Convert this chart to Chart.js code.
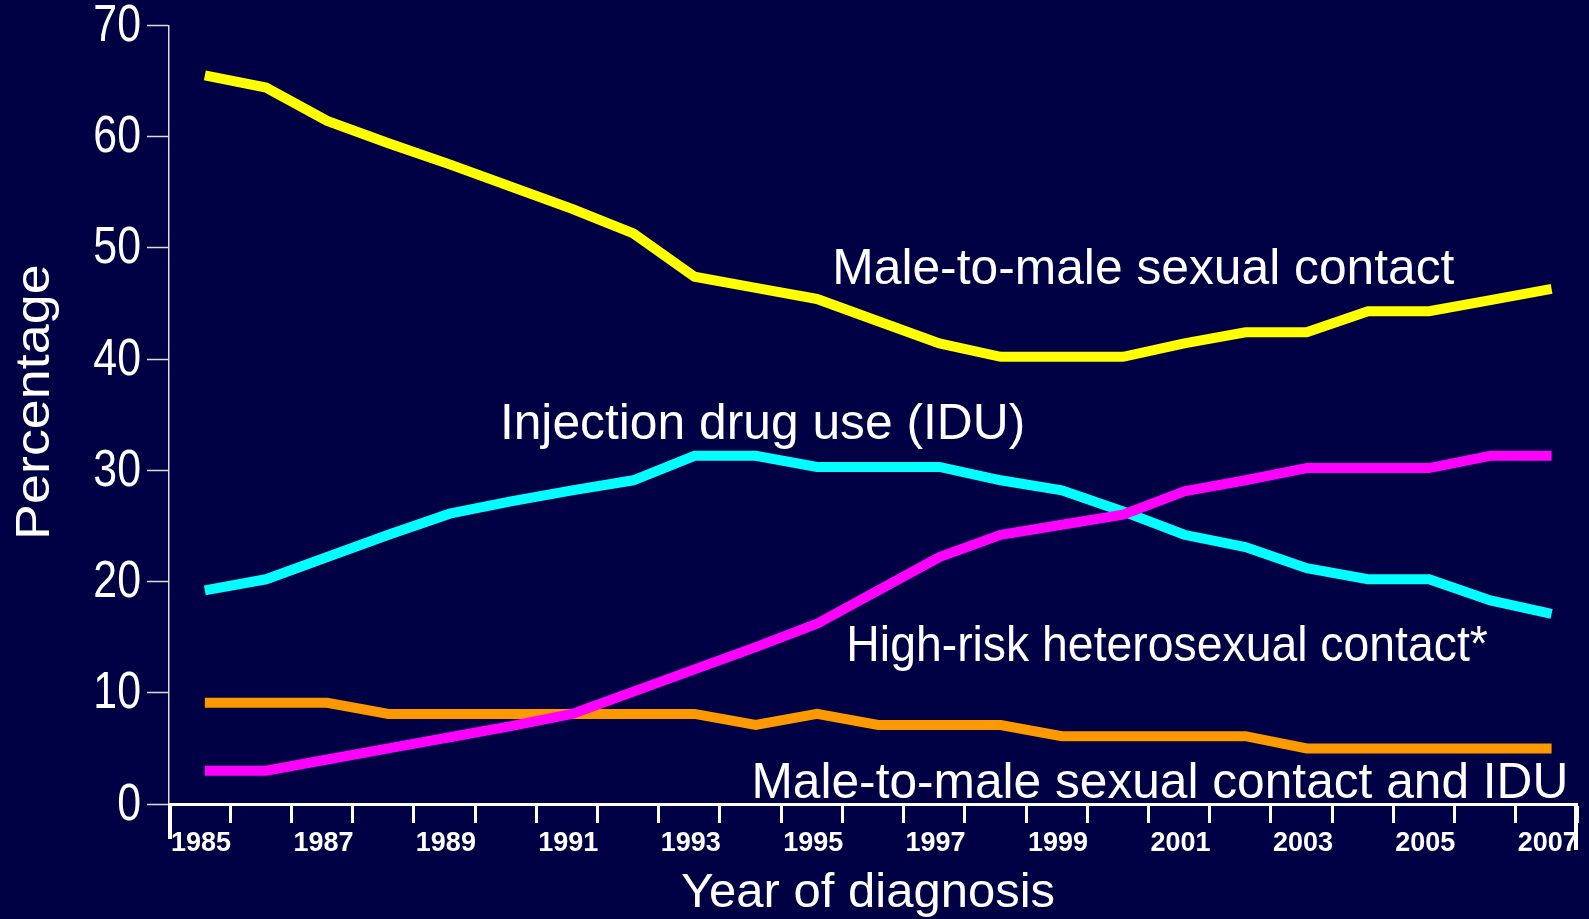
<!DOCTYPE html>
<html>
<head>
<meta charset="utf-8">
<script src="https://cdn.jsdelivr.net/npm/chart.js@4.4.1/dist/chart.umd.min.js"></script>
<style>
  html, body { margin: 0; padding: 0; background: #000044; overflow: hidden; }
  canvas { display: block; background: #000044; }
</style>
</head>
<body>
<canvas id="c" width="1589" height="919"></canvas>
<script>
// ---- data ----
const years = [1985, 1986, 1987, 1988, 1989, 1990, 1991, 1992, 1993, 1994, 1995, 1996,
               1997, 1998, 1999, 2000, 2001, 2002, 2003, 2004, 2005, 2006, 2007];
const xTickLabels = ['1985', '1987', '1989', '1991', '1993', '1995', '1997', '1999', '2001', '2003', '2005', '2007'];
const yTickValues = [0, 10, 20, 30, 40, 50, 60, 70];

const maleToMale   = [65.5, 64.4, 61.4, 59.4, 57.5, 55.5, 53.5, 51.3, 47.4, 46.4, 45.4, 43.4,
                      41.4, 40.2, 40.2, 40.2, 41.4, 42.4, 42.4, 44.3, 44.3, 45.3, 46.3];
const injectionDrugUse = [19.2, 20.2, 22.2, 24.2, 26.1, 27.2, 28.2, 29.1, 31.3, 31.3, 30.3, 30.3,
                      30.3, 29.1, 28.2, 26.3, 24.2, 23.1, 21.2, 20.2, 20.2, 18.3, 17.1];
const heterosexual = [3.0, 3.0, 4.0, 5.0, 6.0, 7.0, 8.1, 10.1, 12.1, 14.1, 16.2, 19.2,
                      22.2, 24.2, 25.1, 26.0, 28.1, 29.1, 30.2, 30.2, 30.2, 31.3, 31.3];
const maleToMaleAndIdu = [9.1, 9.1, 9.1, 8.1, 8.1, 8.1, 8.1, 8.1, 8.1, 7.1, 8.1, 7.1,
                      7.1, 7.1, 6.1, 6.1, 6.1, 6.1, 5.0, 5.0, 5.0, 5.0, 5.0];

const seriesNames = ['Male-to-male sexual contact', 'Injection drug use (IDU)',
                     'High-risk heterosexual contact*', 'Male-to-male sexual contact and IDU'];

const xTitle = 'Year of diagnosis';
const yTitle = 'Percentage';

// ---- chart ----
const toPoints = arr => arr.map((v, i) => ({ x: years[i], y: v }));
const FONT = "'Liberation Sans', Arial, sans-serif";
const catShift = 0.585; // position of a point inside its year cell

// condensed look of the original slide text (transform wrappers around Chart.js drawing)
const condensePlugin = {
  id: 'condense',
  beforeDraw(chart) {
    if (chart.$condensed) return;
    chart.$condensed = true;
    const ys = chart.scales.y, xs = chart.scales.x;
    const yLabels = ys.drawLabels.bind(ys);
    ys.drawLabels = function (area) {
      const ctx = this.ctx;
      const pivot = this.right - this.options.grid.tickLength - this.options.ticks.padding;
      ctx.save();
      ctx.translate(pivot, 1.5); ctx.scale(0.84, 1); ctx.translate(-pivot, 0);
      yLabels(area);
      ctx.restore();
    };
    const yTitleDraw = ys.drawTitle.bind(ys);
    ys.drawTitle = function () {
      const ctx = this.ctx;
      const cy = (this.top + this.bottom) / 2;
      ctx.save();
      ctx.translate(0, cy - 12.5); ctx.scale(1, 1.1); ctx.translate(0, -cy);
      yTitleDraw();
      ctx.restore();
    };
    const xTitleDraw = xs.drawTitle.bind(xs);
    xs.drawTitle = function () {
      const ctx = this.ctx;
      ctx.save();
      ctx.translate(-5, 4);
      xTitleDraw();
      ctx.restore();
    };
  }
};

const seriesLabelPlugin = {
  id: 'seriesLabels',
  afterDatasetsDraw(chart) {
    const { ctx, scales: { x, y } } = chart;
    const anchors = [
      { idx: 0, xv: 1995.25, yv: 46.7, sx: 0.995 },
      { idx: 1, xv: 1989.82, yv: 32.8, sx: 0.995 },
      { idx: 2, xv: 1995.48, yv: 12.86, sx: 0.927 },
      { idx: 3, xv: 1993.93, yv: 0.58, sx: 0.993 }
    ];
    ctx.save();
    ctx.fillStyle = '#ffffff';
    ctx.font = '50px ' + FONT;
    ctx.textAlign = 'left';
    ctx.textBaseline = 'alphabetic';
    anchors.forEach(a => {
      const px = x.getPixelForValue(a.xv), py = y.getPixelForValue(a.yv);
      ctx.save();
      ctx.translate(px, py); ctx.scale(a.sx, 1);
      ctx.fillText(seriesNames[a.idx], 0, 0);
      ctx.restore();
    });
    // longer end ticks of the x axis
    ctx.strokeStyle = '#ffffff';
    ctx.lineWidth = 4;
    const yb = y.getPixelForValue(0);
    ctx.beginPath();
    ctx.moveTo(x.left + 1, yb); ctx.lineTo(x.left + 1, yb + 35);
    ctx.moveTo(x.right - 1, yb); ctx.lineTo(x.right - 1, yb + 46);
    ctx.stroke();
    ctx.restore();
  }
};

new Chart(document.getElementById('c'), {
  type: 'line',
  data: {
    datasets: [
      { label: seriesNames[2], data: toPoints(heterosexual), borderColor: '#ff00ff' },
      { label: seriesNames[0], data: toPoints(maleToMale), borderColor: '#ffff00' },
      { label: seriesNames[1], data: toPoints(injectionDrugUse), borderColor: '#00ffff' },
      { label: seriesNames[3], data: toPoints(maleToMaleAndIdu), borderColor: '#ff9900' }
    ].map(d => Object.assign(d, {
      borderWidth: 10, pointRadius: 0, tension: 0, fill: false,
      borderCapStyle: 'butt', borderJoinStyle: 'miter'
    }))
  },
  options: {
    responsive: false,
    animation: false,
    layout: { padding: { top: 25.3, right: 12, left: 0, bottom: 0 } },
    plugins: { legend: { display: false }, tooltip: { enabled: false } },
    scales: {
      x: {
        type: 'linear',
        min: years[0] - catShift,
        max: years[years.length - 1] + 1 - catShift,
        afterBuildTicks: s => { s.ticks = years.concat([years[years.length - 1] + 1]).map(v => ({ value: v - catShift })); },
        afterFit: s => { s.height = 115; },
        grid: { drawOnChartArea: false, drawTicks: true, tickLength: 19, tickWidth: 3, tickColor: '#ffffff', color: '#ffffff' },
        border: { display: true, color: '#ffffff', width: 3 },
        ticks: {
          autoSkip: false, maxRotation: 0, minRotation: 0, labelOffset: 32, padding: 4,
          color: '#ffffff', font: { family: FONT, weight: 'bold', size: 27 },
          callback: (v, i) => {
            const yr = years[i];
            return (yr !== undefined && xTickLabels.includes(String(yr))) ? String(yr) : '';
          }
        },
        title: { display: true, text: xTitle, color: '#ffffff', font: { family: FONT, size: 49 }, padding: { top: 0, bottom: 0 } }
      },
      y: {
        min: 0, max: 70,
        afterBuildTicks: s => { s.ticks = yTickValues.map(v => ({ value: v })); },
        afterFit: s => { s.width = 169; },
        grid: { drawOnChartArea: false, drawTicks: true, tickLength: 22, tickWidth: 1.5, tickColor: '#dddddd', color: '#dddddd' },
        border: { display: true, color: '#dddddd', width: 1.5 },
        ticks: { color: '#ffffff', font: { family: FONT, size: 51, lineHeight: 0.74 }, padding: 6 },
        title: { display: true, text: yTitle, color: '#ffffff', font: { family: FONT, size: 49 }, padding: { top: 6.5, bottom: 0 } }
      }
    }
  },
  plugins: [condensePlugin, seriesLabelPlugin]
});
</script>
</body>
</html>
